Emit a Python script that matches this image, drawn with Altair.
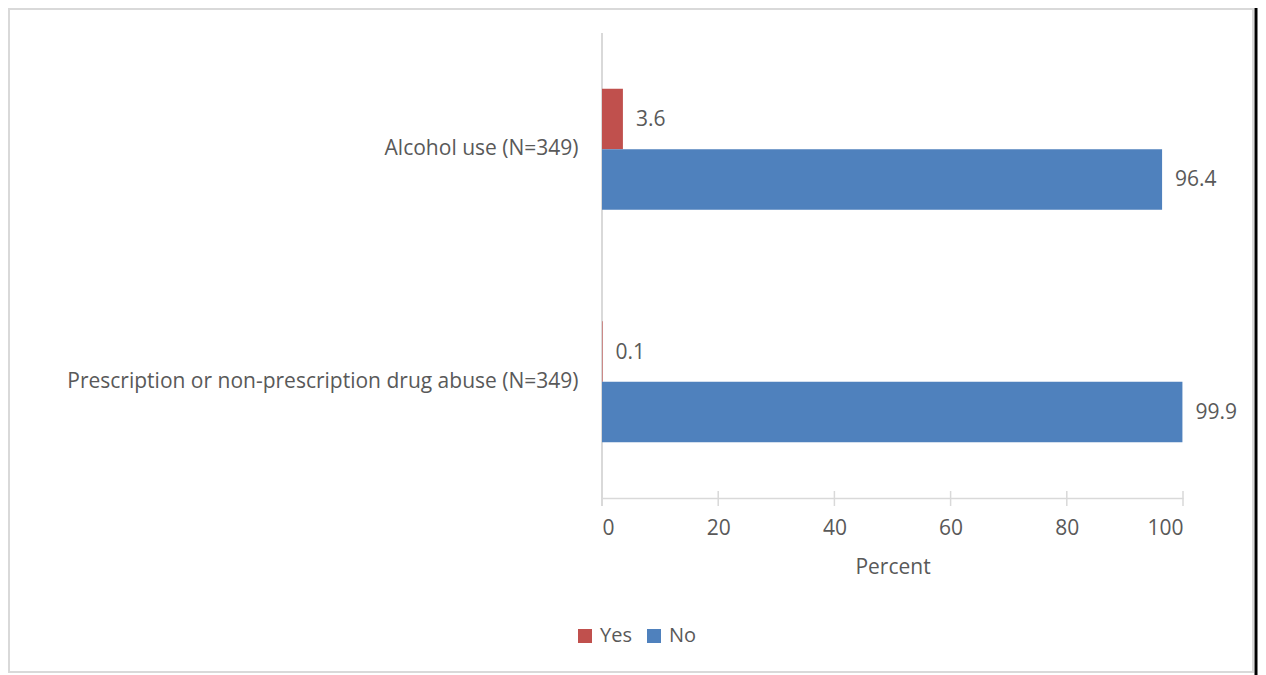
import altair as alt
import pandas as pd

categories = ["Alcohol use (N=349)", "Alcohol use (N=349)",
              "Prescription or non-prescription drug abuse (N=349)",
              "Prescription or non-prescription drug abuse (N=349)"]
series = ["Yes", "No", "Yes", "No"]
values = [3.6, 96.4, 0.1, 99.9]
tick_values = [0, 20, 40, 60, 80, 100]
cat_order = ["Alcohol use (N=349)", "Prescription or non-prescription drug abuse (N=349)"]
series_order = ["Yes", "No"]
colors = ["#C0504D", "#4F81BD"]

df = pd.DataFrame({"cat": categories, "series": series, "value": values})
ticks_df = pd.DataFrame({"t": tick_values})

W, H = 581, 465
FONT = "Open Sans"
FS = 21
TXT = "#595959"
GRID = "#D9D9D9"

xscale = alt.Scale(domain=[0, 100], nice=False, zero=True)
yscale = alt.Scale(domain=cat_order, paddingInner=0.48, paddingOuter=0.24)

base = alt.Chart(df).encode(
    y=alt.Y("cat:N", sort=cat_order, scale=yscale,
            axis=alt.Axis(title=None, ticks=False, domain=False, labelPadding=24,
                          labelFont=FONT, labelFontSize=FS, labelColor=TXT,
                          labelLimit=700)),
    yOffset=alt.YOffset("series:N", sort=series_order,
                        scale=alt.Scale(domain=series_order, paddingInner=0, paddingOuter=0)),
    x=alt.X("value:Q", scale=xscale,
            axis=alt.Axis(title="Percent", values=tick_values, ticks=False, tickSize=0,
                          grid=False, domainColor=GRID, domainWidth=1.5,
                          labelPadding=19, labelFont=FONT, labelFontSize=FS,
                          labelColor=TXT, titleFont=FONT, titleFontSize=FS,
                          titleFontWeight="normal", titleColor=TXT, titlePadding=18)),
)

bars = base.mark_bar().encode(
    color=alt.Color("series:N", sort=series_order,
                    scale=alt.Scale(domain=series_order, range=colors),
                    legend=alt.Legend(title=None, orient="none", direction="horizontal",
                                      legendX=-27, legendY=593, symbolType="square",
                                      symbolSize=196, symbolStrokeWidth=0,
                                      labelFont=FONT, labelFontSize=20, labelColor=TXT,
                                      labelOffset=5, columnPadding=12, padding=0))
)

labels = base.mark_text(align="left", baseline="middle", dx=13, dy=1,
                        font=FONT, fontSize=FS, color=TXT).encode(
    text=alt.Text("value:Q", format=".1f")
)

xticks = alt.Chart(ticks_df).mark_rule(color=GRID, strokeWidth=1.5).encode(
    x=alt.X("t:Q", scale=xscale),
    y=alt.value(H - 7), y2=alt.value(H + 8)
)

yline = alt.Chart(ticks_df).mark_rule(color=GRID, strokeWidth=1.5).encode(
    x=alt.value(0), y=alt.value(0), y2=alt.value(H + 8)
)

frame = alt.Chart(pd.DataFrame({"a": [0]})).mark_rect(
    fill=None, stroke="#D9D9D9", strokeWidth=2).encode(
    x=alt.value(-593), x2=alt.value(651), y=alt.value(-24), y2=alt.value(639)
)
black_edge = alt.Chart(pd.DataFrame({"a": [0]})).mark_rule(
    color="#000000", strokeWidth=3).encode(
    x=alt.value(654), y=alt.value(-25), y2=alt.value(642)
)

chart = alt.layer(frame, black_edge, yline, xticks, bars, labels).properties(
    width=W, height=H,
    autosize=alt.AutoSizeParams(type="none"),
    padding={"left": 594, "top": 25, "right": 75, "bottom": 177},
).configure(background="white").configure_view(stroke=None)

chart.save("out.html", embed_options={"renderer": "svg", "actions": False})
